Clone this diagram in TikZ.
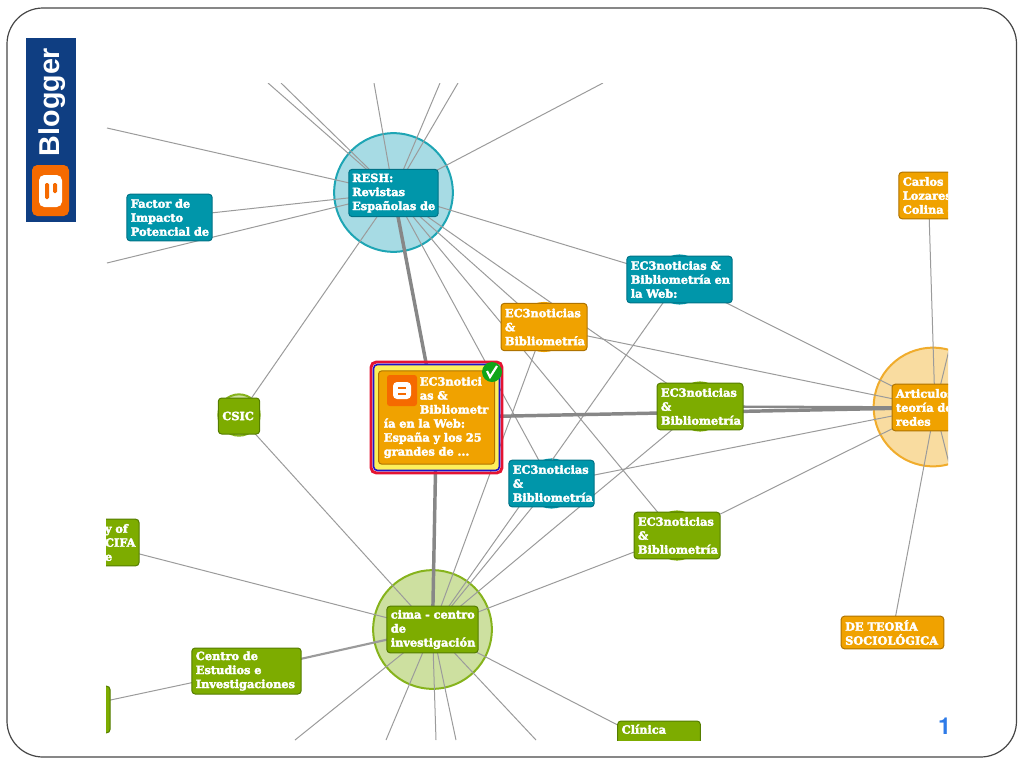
\documentclass[tikz,border=0pt]{standalone}
\usepackage{fontspec}
\setmainfont{DejaVu Serif}
\setsansfont{Liberation Sans}
\newfontfamily\pagefont{TeX Gyre Heros}
\pgfdeclarelayer{halos}
\pgfdeclarelayer{edges}
\pgfsetlayers{halos,edges,main}
\definecolor{tealbox}{RGB}{0,150,170}
\definecolor{tealline}{RGB}{0,115,135}
\definecolor{tealhalo}{RGB}{167,219,228}
\definecolor{tealring}{RGB}{30,165,180}
\definecolor{orangebox}{RGB}{240,162,0}
\definecolor{orangeline}{RGB}{175,115,0}
\definecolor{orangehalo}{RGB}{249,220,160}
\definecolor{orangering}{RGB}{240,172,44}
\definecolor{greenbox}{RGB}{125,172,0}
\definecolor{greenline}{RGB}{85,125,0}
\definecolor{greenhalo}{RGB}{205,224,160}
\definecolor{greenring}{RGB}{134,179,28}
\definecolor{navylogo}{RGB}{15,62,130}
\definecolor{orangelogo}{RGB}{245,106,0}
\definecolor{edgegray}{RGB}{155,155,155}
\definecolor{thickgray}{RGB}{135,135,135}
\definecolor{pageblue}{RGB}{46,123,232}
\tikzset{every picture/.style={line width=0.75pt}}
\tikzset{
  netbox/.style={rounded corners=2.5pt,inner xsep=3pt,inner ysep=0pt,outer sep=0pt,text=white,align=left,font=\fontsize{8.5}{10.5}\selectfont\bfseries,line width=0.75pt,
    execute at begin node=\special{pdf:code 2 Tr 0.25 w 0.2 0.2 0.1 RG},execute at end node=\special{pdf:code 0 Tr}},
  tealnode/.style={netbox,fill=tealbox,draw=tealline},
  orangenode/.style={netbox,fill=orangebox,draw=orangeline},
  greennode/.style={netbox,fill=greenbox,draw=greenline},
  link/.style={draw=edgegray,line width=0.75pt},
  heavylink/.style={draw=thickgray,line width=2.6pt},
  halo/.style={circle,inner sep=0pt,outer sep=0pt,minimum size=89pt,line width=1.5pt},
}
\begin{document}
\begin{tikzpicture}[x=0.75pt,y=0.75pt,yscale=-1,xscale=1]
\useasboundingbox (0,0) rectangle (1024,768);

% page frame
\draw [draw={rgb,255:red,70;green,70;blue,70},line width=0.9pt,rounded corners=27pt] (7,8) rectangle (1016.5,757);

% Blogger logo
\fill [navylogo] (26,38) rectangle (76,222);
\fill [orangelogo,rounded corners=4pt] (32,165) rectangle (69,216);
\fill [white,rounded corners=4pt] (39,175) rectangle (62,207);
\fill [orangelogo,rounded corners=1pt] (45,183) rectangle (49,199);
\fill [orangelogo,rounded corners=1pt] (53,183) rectangle (57,193);
\node (logotext) at (52,102) [rotate=90,text=white,font=\fontsize{21.5}{24}\selectfont\sffamily\bfseries,inner sep=0pt] {Blogger};

\begin{scope}
\clip (106,83) rectangle (948,740);
% boxes
\node (resh) at (393.5,193) [tealnode,inner xsep=2.5pt,text width=62pt,minimum height=35.5pt] {RESH:\\Revistas\\\mbox{Españolas de}};
\node (factor) at (169.5,217.5) [tealnode,text width=58pt,minimum height=35pt] {Factor de\\Impacto\\\mbox{Potencial de}};
\node (ectop) at (544,327) [orangenode,text width=58.5pt,minimum height=35.5pt] {EC3noticias\\\&\\Bibliometría};
\node (ecweb) at (679.5,279.5) [tealnode,text width=73pt,minimum height=35pt] {EC3noticias \&\\\mbox{Bibliometría en}\\la Web:};
\node (ecgreen) at (700,406.5) [greennode,text width=58.5pt,minimum height=35pt] {EC3noticias\\\&\\Bibliometría};
\node (ecteal) at (551.5,483.5) [tealnode,text width=58pt,minimum height=35pt] {EC3noticias\\\&\\\mbox{Bibliometría}};
\node (eclow) at (677,535.5) [greennode,text width=58.5pt,minimum height=35pt] {EC3noticias\\\&\\Bibliometría};
\node (articulos) at (935,407.5) [orangenode,text width=58.5pt,minimum height=35pt] {\mbox{Articulos de}\\teoría de\\redes};
\node (carlos) at (941.5,195.5) [orangenode,text width=58pt,minimum height=35pt] {Carlos\\Lozares\\\mbox{Colina -}};
\node (teoria) at (892.5,632.5) [orangenode,text width=71pt,minimum height=24.5pt] {DE TEORÍA\\\mbox{SOCIOLÓGICA}};
\node (cima) at (432.5,629.5) [greennode,text width=62.5pt,minimum height=35pt] {\mbox{cima - centro}\\de\\\mbox{investigación}};
\node (csic) at (239,416) [greennode,text width=25pt,minimum height=27pt] {CSIC};
\node (centro) at (246.5,671) [greennode,text width=76pt,minimum height=34.5pt] {Centro de\\Estudios e\\\mbox{Investigaciones}};
\node (cifa) at (95,542.5) [greennode,text width=60pt,minimum height=35pt] {\hspace*{37.5pt}y of\\\hspace*{37.5pt}CIFA\\\hspace*{37.5pt}e};
\node (stub) at (66,709.5) [greennode,text width=60pt,minimum height=35pt] {};
\node (clinica) at (659,721) [greennode,anchor=north,text width=56pt,inner ysep=2.5pt,text height=7pt,text depth=26pt] {Clínica};

% selected node
\draw [draw={rgb,255:red,228;green,20;blue,50},line width=2.2pt,rounded corners=4pt] (371,362) rectangle (502,473);
\draw [draw={rgb,255:red,30;green,20;blue,200},line width=1.2pt,fill={rgb,255:red,253;green,240;blue,90},rounded corners=3pt] (373.5,364.5) rectangle (499.5,470.5);
\node (selected) at (436.5,417.5) [orangenode,inner xsep=4pt,text width=79pt,minimum height=70pt] {\hspace*{27pt}EC3notici\\\hspace*{27pt}as \&\\\hspace*{27pt}\mbox{Bibliometr}\\ía en la Web:\\España y los 25\\grandes de ...};
\fill [orangelogo,rounded corners=2pt] (387,375) rectangle (417,406);
\fill [white,rounded corners=3pt] (393,382) rectangle (411,399);
\fill [orangelogo] (398,387) rectangle (406,389);
\fill [orangelogo] (398,393) rectangle (406,395);
\fill [fill={rgb,255:red,15;green,165;blue,25}] (492,372) circle (7.5pt);
\draw [white,line width=1.6pt] (487,371) -- (490,377) -- (497,366);

% page number
\node (pagenum) at (944.5,726.5) [text=pageblue,font=\fontsize{17.5}{20}\selectfont\pagefont\bfseries,inner sep=0pt] {1};
\end{scope}

% free ends
\coordinate (up1) at (268,83);
\coordinate (up2) at (281,83);
\coordinate (up3) at (374,83);
\coordinate (up4) at (440,83);
\coordinate (up5) at (458,83);
\coordinate (up6) at (603,83);
\coordinate (left1) at (107,128);
\coordinate (left2) at (107,263);
\coordinate (down1) at (295,740);
\coordinate (down2) at (386,740);
\coordinate (down3) at (436,740);
\coordinate (down4) at (456,740);
\coordinate (down5) at (536,740);
\coordinate (right1) at (960,305);
\coordinate (right2) at (960,507);
\coordinate (carlosport) at (928.5,195);

\begin{pgfonlayer}{halos}
\begin{scope}
\clip (106,83) rectangle (948,740);
\node (reshhalo) at (393.5,192.5) [halo,fill=tealhalo,draw=tealring] {};
\node (cimahalo) at (432.5,629.5) [halo,fill=greenhalo,draw=greenring] {};
\node (articuloshalo) at (933,407) [halo,fill=orangehalo,draw=orangering] {};
\node (csichalo) at (239,415) [halo,minimum size=31pt,fill=greenhalo,draw=greenring] {};
% small bumps behind the boxes
\foreach \name/\col in {ecweb/tealbox,ecteal/tealbox,ecgreen/greenbox,eclow/greenbox,ectop/orangebox}
  \fill [\col] (\name) circle (18.8pt);
\end{scope}
\end{pgfonlayer}

\begin{pgfonlayer}{edges}
\begin{scope}
\clip (106,83) rectangle (948,740);
\foreach \a/\b in {resh/up1,resh/up2,resh/up3,resh/up4,resh/up5,resh/up6,resh/left1,resh/left2,resh/factor,resh/csic,resh/ecweb,resh/ecgreen,resh/ectop,resh/eclow,resh/ecteal,
  cima/ecteal,cima/ecgreen,cima/ectop,cima/ecweb,cima/eclow,cima/csic,cima/cifa,cima/clinica,cima/down1,cima/down2,cima/down3,cima/down4,cima/down5,
  articulos/ecweb,articulos/ectop,articulos/ecteal,articulos/eclow,articulos/carlosport,articulos/teoria,articulos/right1,articulos/right2,centro/stub}
  \draw [link] (\a.center) -- (\b.center);
\draw [link,line width=1.6pt] (cima.center) -- (centro.center);
\draw [heavylink] (resh.center) -- (selected.center);
\draw [heavylink] (selected.center) -- (cima.center);
\draw [heavylink] (selected.center) -- (articulos.center);
\draw [heavylink,line width=1.8pt] (ecgreen.center) -- (articulos.center);
\end{scope}
\end{pgfonlayer}
\end{tikzpicture}
\end{document}
